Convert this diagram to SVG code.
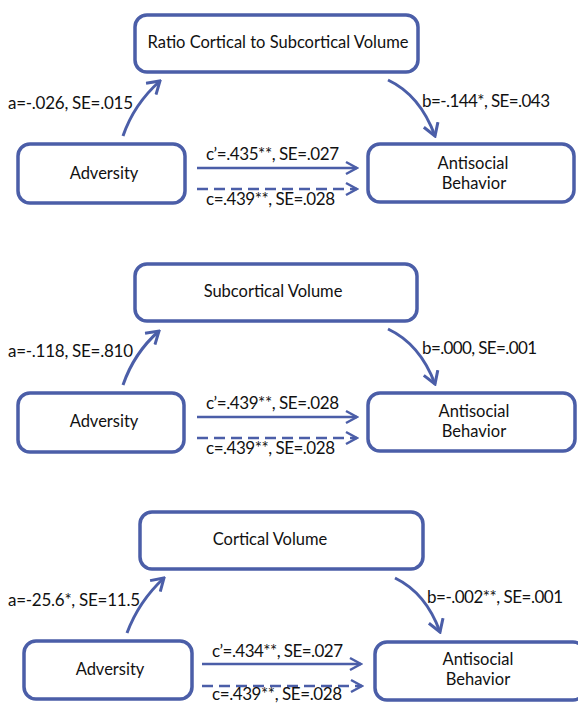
<svg xmlns="http://www.w3.org/2000/svg" width="578" height="705" viewBox="0 0 578 705">
<style>
.box{fill:#fff;stroke:#4b5ea8;stroke-width:3.5}
.t{font-family:Lato,"Liberation Sans",sans-serif;font-size:16.5px;fill:#111}
.l{font-family:Lato,"Liberation Sans",sans-serif;font-size:17px;fill:#111}
.m{text-anchor:middle}
.arr{fill:none;stroke:#4b5ea8;stroke-width:3;marker-end:url(#ah)}
.str{fill:none;stroke:#4b5ea8;stroke-width:2.5;marker-end:url(#ah2)}
.dash{stroke-dasharray:11 6}
</style>
<defs>
<marker id="ah" markerUnits="userSpaceOnUse" viewBox="0 0 15 18" refX="13" refY="9" markerWidth="15" markerHeight="18" orient="auto">
<path d="M1,1.5 L13,9 L1,16.5" fill="none" stroke="#4b5ea8" stroke-width="3"/>
</marker>
<marker id="ah2" markerUnits="userSpaceOnUse" viewBox="0 0 14 16" refX="12" refY="8" markerWidth="14" markerHeight="16" orient="auto">
<path d="M1,2 L12,8 L1,14" fill="none" stroke="#4b5ea8" stroke-width="2.5"/>
</marker>
</defs>
<rect width="578" height="705" fill="#fff"/>

<!-- Panel 1 -->
<g id="p1-mediator"><rect class="box" x="135" y="15" width="283" height="57" rx="12"/><text class="t m" x="278" y="48">Ratio Cortical to Subcortical Volume</text></g>
<g id="p1-adversity"><rect class="box" x="18" y="144" width="167" height="59" rx="12"/><text class="t m" x="104" y="179">Adversity</text></g>
<g id="p1-antisocial"><rect class="box" x="368" y="144" width="206" height="58" rx="12"/><text class="t m" x="473" y="169">Antisocial</text><text class="t m" x="474" y="189">Behavior</text></g>

<!-- Panel 2 -->
<g id="p2-mediator"><rect class="box" x="135" y="264" width="282" height="57" rx="12"/><text class="t m" x="273" y="297">Subcortical Volume</text></g>
<g id="p2-adversity"><rect class="box" x="18" y="393" width="166" height="59" rx="12"/><text class="t m" x="104" y="427">Adversity</text></g>
<g id="p2-antisocial"><rect class="box" x="368" y="393" width="207" height="58" rx="12"/><text class="t m" x="474" y="417">Antisocial</text><text class="t m" x="474" y="437">Behavior</text></g>

<!-- Panel 3 -->
<g id="p3-mediator"><rect class="box" x="140" y="512" width="283" height="57" rx="12"/><text class="t m" x="270" y="545">Cortical Volume</text></g>
<g id="p3-adversity"><rect class="box" x="24" y="641" width="168" height="58" rx="12"/><text class="t m" x="110" y="675">Adversity</text></g>
<g id="p3-antisocial"><rect class="box" x="375" y="642" width="210" height="58" rx="12"/><text class="t m" x="478" y="665">Antisocial</text><text class="t m" x="478" y="685">Behavior</text></g>

<g id="connectors">
<path class="arr" d="M123,136 Q134,104 160,81"/>
<path class="arr" d="M388,80 Q420,95 435,136"/>
<path class="str" d="M197,168 H357"/>
<path class="str dash" d="M197,189 H357"/>

<path class="arr" d="M123,385 Q134,353 159,331"/>
<path class="arr" d="M388,329 Q420,344 435,384"/>
<path class="str" d="M197,417 H357"/>
<path class="str dash" d="M197,438 H357"/>

<path class="arr" d="M127,633 Q139,601 164,578"/>
<path class="arr" d="M395,578 Q426,593 440,632"/>
<path class="str" d="M202,664 H361"/>
<path class="str dash" d="M202,686 H362"/>
</g>

<g id="labels">
<text class="l" x="8" y="109" textLength="125">a=-.026,  SE=.015</text>
<text class="l" x="422" y="107" textLength="128">b=-.144*, SE=.043</text>
<text class="l" x="206" y="160" textLength="133">c’=.435**, SE=.027</text>
<text class="l" x="206" y="205" textLength="129">c=.439**, SE=.028</text>

<text class="l" x="8" y="357" textLength="125">a=-.118,  SE=.810</text>
<text class="l" x="422" y="354" textLength="115">b=.000, SE=.001</text>
<text class="l" x="206" y="409" textLength="133">c’=.439**, SE=.028</text>
<text class="l" x="206" y="454" textLength="129">c=.439**, SE=.028</text>

<text class="l" x="8" y="606" textLength="132">a=-25.6*,  SE=11.5</text>
<text class="l" x="427" y="603" textLength="136">b=-.002**, SE=.001</text>
<text class="l" x="212" y="657" textLength="131">c’=.434**, SE=.027</text>
<text class="l" x="212" y="700" textLength="130">c=.439**, SE=.028</text>
</g>
</svg>
